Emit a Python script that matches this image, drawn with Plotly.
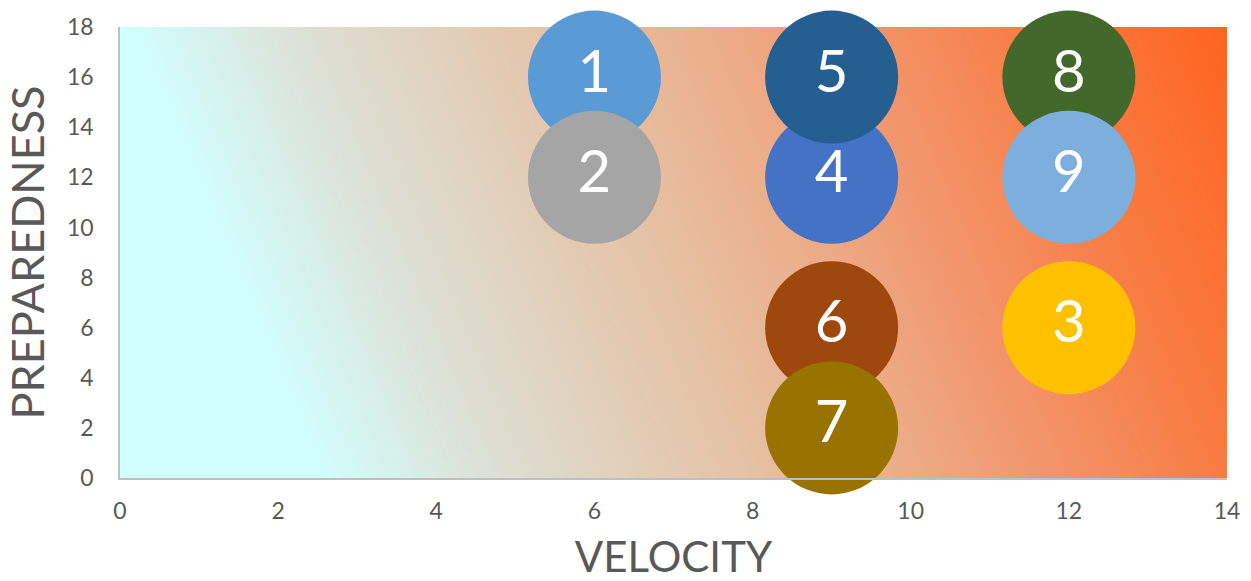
import numpy as np
import plotly.graph_objects as go

# ---- data ----
labels = ["1", "2", "3", "4", "5", "6", "7", "8", "9"]
velocity = [6, 6, 12, 9, 9, 9, 9, 12, 12]
preparedness = [16, 12, 6, 12, 16, 6, 2, 16, 12]
colors = ["#5B9BD5", "#A5A5A5", "#FFC000", "#4472C4", "#255E91",
          "#9E480E", "#997300", "#43682B", "#7CAFDD"]
x_ticks = [0, 2, 4, 6, 8, 10, 12, 14]
y_ticks = [0, 2, 4, 6, 8, 10, 12, 14, 16, 18]

X_MAX, Y_MAX = 14, 18
W, H = 1251, 581
ML, MR, MT, MB = 120, 24, 27, 103
PW, PH = W - ML - MR, H - MT - MB

# ---- background gradient (style only) ----
gx = np.linspace(-0.2, X_MAX + 0.2, 160)
gy = np.linspace(-0.2, Y_MAX + 0.2, 90)
GX, GY = np.meshgrid(gx, gy)
cx, cy = 0.922, 0.388
tmax = cx * PW + cy * PH
Z = (cx * (GX / X_MAX * PW) + cy * (GY / Y_MAX * PH)) / tmax
Z = np.clip(Z, 0, 1)
grad_scale = [
    [0.0, "#D2FEFE"], [0.155, "#D2FEFE"], [0.29, "#DDDFD3"],
    [0.47, "#E4C4A8"], [0.6, "#EBAE8A"], [0.72, "#F2946A"],
    [0.85, "#F87C42"], [1.0, "#FF6420"],
]

fig = go.Figure()
fig.add_trace(go.Heatmap(
    x=gx, y=gy, z=Z, colorscale=grad_scale, zmin=0, zmax=1,
    showscale=False, hoverinfo="skip", zsmooth="best",
))
fig.add_trace(go.Scatter(
    x=velocity, y=preparedness, mode="markers+text", text=labels,
    textposition="middle center",
    textfont=dict(family="Lato", size=58, color="white"),
    marker=dict(size=133, color=colors, opacity=1, line=dict(width=0)),
    cliponaxis=False, hoverinfo="skip", showlegend=False,
))

axis_font = dict(family="Lato", size=23, color="#595959")
fig.update_layout(
    width=W, height=H,
    margin=dict(l=ML, r=MR, t=MT, b=MB, pad=0),
    paper_bgcolor="white", plot_bgcolor="white",
    showlegend=False,
    xaxis=dict(
        range=[0, X_MAX], tickvals=x_ticks, ticktext=[str(v) for v in x_ticks],
        showgrid=False, zeroline=False, showline=True, linecolor="#BFBFBF",
        linewidth=1.5, ticks="", tickfont=axis_font, ticklabelstandoff=12,
        automargin=False,
        title=dict(text="VELOCITY",
                   font=dict(family="Lato", size=42, color="#595959"),
                   standoff=26),
    ),
    yaxis=dict(
        range=[0, Y_MAX], tickvals=y_ticks, ticktext=[str(v) for v in y_ticks],
        showgrid=False, zeroline=False, showline=True, linecolor="#BFBFBF",
        linewidth=1.5, ticks="", tickfont=axis_font, ticklabelstandoff=20,
        automargin=False,
        title=dict(text="PREPAREDNESS",
                   font=dict(family="Lato", size=45, color="#595959"),
                   standoff=12),
    ),
)

fig.write_html("out.html")
